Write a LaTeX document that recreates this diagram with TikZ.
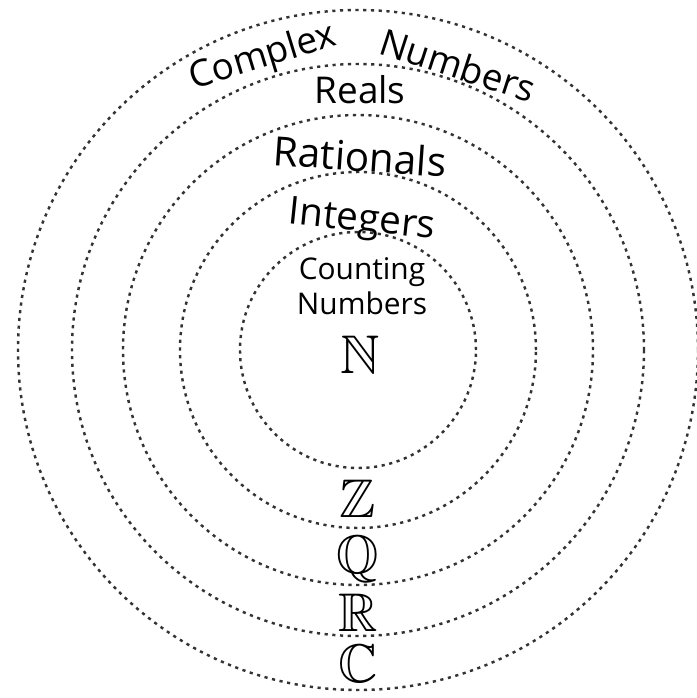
\documentclass[tikz,border=0pt]{standalone}
\usepackage{amsmath,amssymb}
\usepackage{fontspec}
\setmainfont{Open Sans}
\usepackage{tikz}
\usetikzlibrary{positioning}

\begin{document}
\begin{tikzpicture}[every node/.style={align=center, inner sep=1pt},
    ring/.style={line width=1.4pt, dash pattern=on 1.8pt off 2.6pt, black!80},
    setname/.style={font=\fontsize{21}{24}\selectfont},
    setsym/.style={font=\fontsize{31}{34}\selectfont}]
  \useasboundingbox (-7.16,-6.96) rectangle (6.78,7.0);

  % nested sets
  \foreach \r in {6.8,5.72,4.7,3.56,2.36}
    \draw[ring] (0,0) circle (\r);

  \node[setname, rotate=17] (complexA) at (-1.90,5.84) {Complex};
  \node[setname, rotate=-18] (complexB) at (2.0,5.70) {Numbers};
  \node[setname] (reals) at (0.04,5.2) {Reals};
  \node[setname, font=\fontsize{23}{26}\selectfont, rotate=-4] (rationals) at (0.04,3.88) {Rationals};
  \node[setname, font=\fontsize{22}{26}\selectfont, rotate=-6] (integers) at (0.08,2.56) {Integers};
  \node[font=\fontsize{17}{20}\selectfont] (counting) at (0.08,1.28) {Counting\\Numbers};

  \node[setsym] (symN) at (0.04,-0.1) {$\mathbb{N}$};
  \node[setsym] (symZ) at (0,-2.98) {$\mathbb{Z}$};
  \node[setsym] (symQ) at (0,-4.18) {$\mathbb{Q}$};
  \node[setsym] (symR) at (0,-5.26) {$\mathbb{R}$};
  \node[setsym] (symC) at (0,-6.28) {$\mathbb{C}$};
\end{tikzpicture}
\end{document}
